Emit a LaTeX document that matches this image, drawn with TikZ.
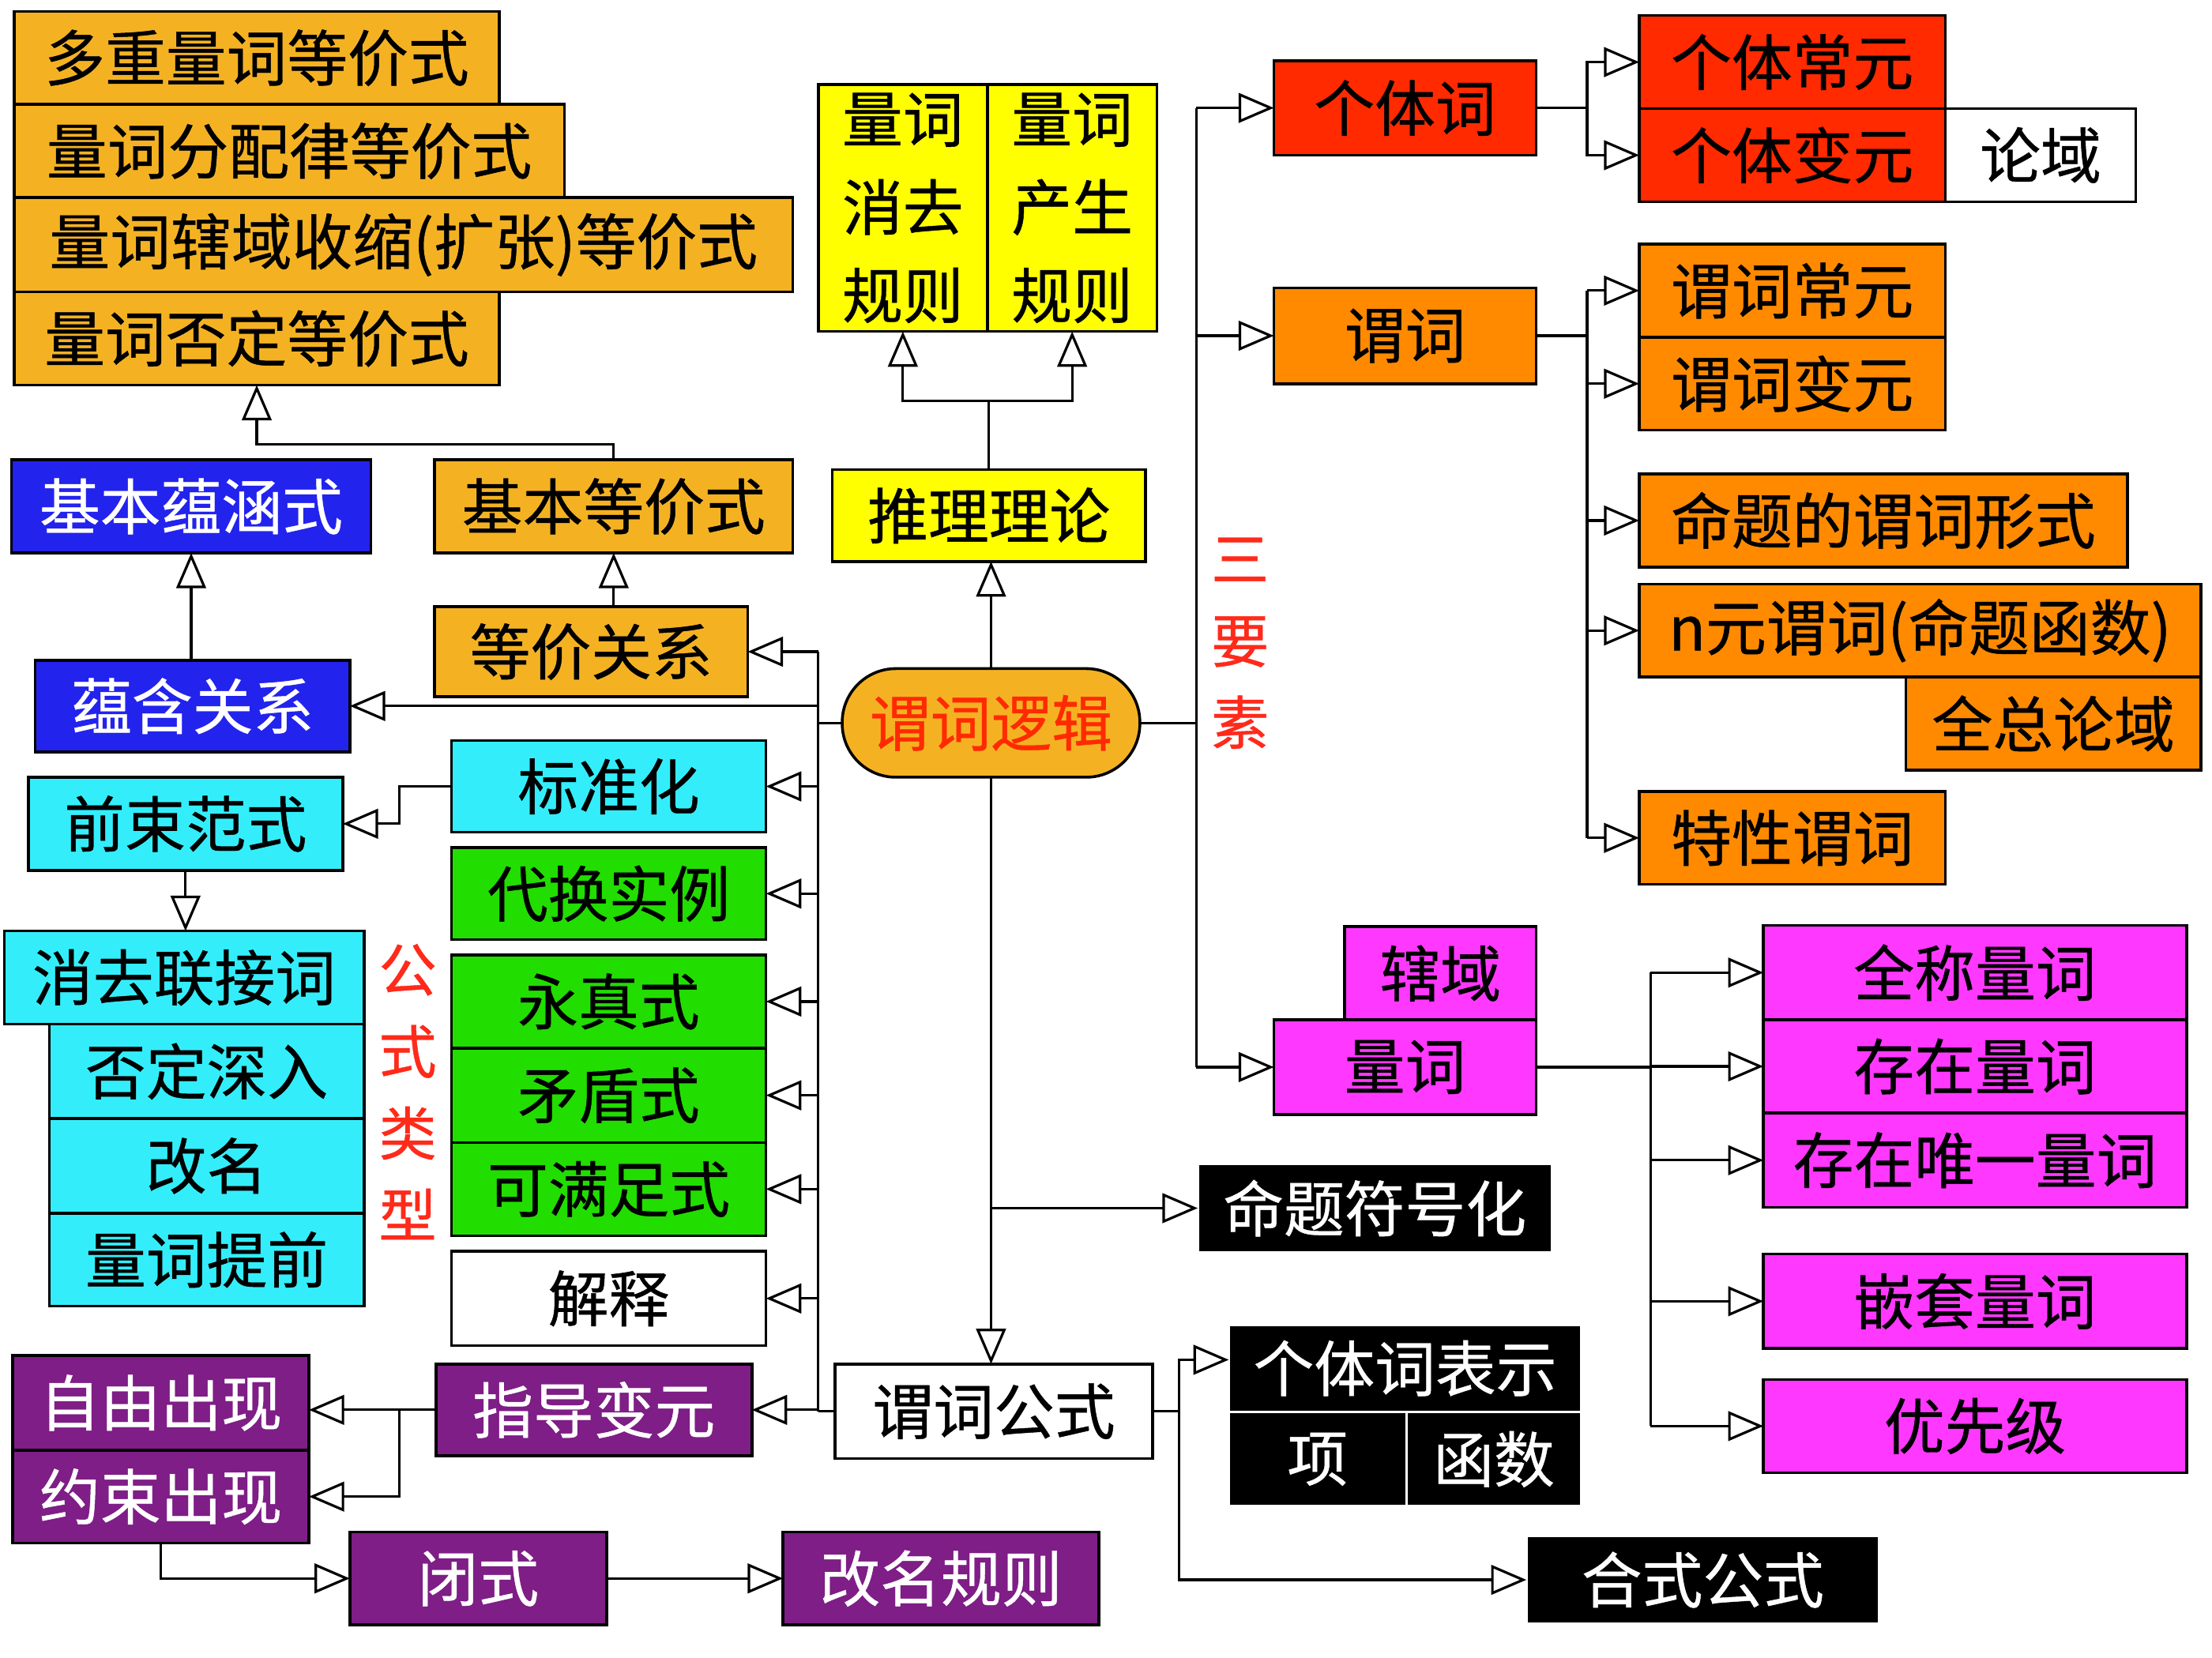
\documentclass[tikz,border=0pt]{standalone}
\usepackage{fontspec}
\setmainfont{Noto Sans CJK SC}[FakeBold=0.6]
\usetikzlibrary{arrows.meta}
\definecolor{cgold}{HTML}{F4B223}
\definecolor{cblue}{HTML}{2323EE}
\definecolor{ccyan}{HTML}{33EEFA}
\definecolor{cgreen}{HTML}{22DD00}
\definecolor{cpurp}{HTML}{7E1E86}
\definecolor{cmag}{HTML}{FF38FF}
\definecolor{cred}{HTML}{FF2A00}
\definecolor{corange}{HTML}{FF8A00}
\definecolor{cyel}{HTML}{FFFF00}
\definecolor{ctxtred}{HTML}{FF2A1A}
\newcommand\mybox[7]{\node[#6, minimum width={(#4-#2)*0.5pt}, minimum height={(#5-#3)*0.5pt}] (#1) at ({(#2+#4)/2},{(#3+#5)/2}) {#7};}
\begin{document}
\begin{tikzpicture}[x=0.5pt,y=-0.5pt,
  bx/.style={draw=black,line width=1pt,inner sep=0pt,outer sep=0pt,font=\fontsize{21.5}{26}\selectfont},
  sgold/.style={bx,fill=cgold},
  sblue/.style={bx,fill=cblue,text=white},
  scyan/.style={bx,fill=ccyan},
  sgreen/.style={bx,fill=cgreen},
  spurp/.style={bx,fill=cpurp,text=white},
  smag/.style={bx,fill=cmag},
  sred/.style={bx,fill=cred},
  sorange/.style={bx,fill=corange},
  syellow/.style={bx,fill=cyel},
  swhite/.style={bx,fill=white},
  sblack/.style={bx,fill=black,draw=white,text=white},
  ln/.style={line width=0.9pt},
  arr/.style={ln,-{Triangle[open,length=12.5pt,width=10.5pt]}},
  vtext/.style={inner sep=0pt,align=center,text=ctxtred,font=\fontsize{20.5}{29}\selectfont}]
\useasboundingbox[fill=white] (0,0) rectangle (1568,1175);

% top-left equivalence stack
\mybox{t1}{10}{8}{354}{74}{sgold}{多重量词等价式}
\mybox{t2}{10}{74}{400}{140}{sgold}{量词分配律等价式}
\mybox{t3}{10}{140}{562}{207}{sgold}{量词辖域收缩(扩张)等价式}
\mybox{t4}{10}{207}{354}{273}{sgold}{量词否定等价式}

\mybox{jbyh}{8}{326}{263}{392}{sblue}{基本蕴涵式}
\mybox{yhgx}{25}{468}{248}{533}{sblue}{蕴含关系}
\mybox{jbdj}{308}{326}{562}{392}{sgold}{基本等价式}
\mybox{djgx}{308}{430}{530}{494}{sgold}{等价关系}

% rules
\mybox{gl}{580}{60}{700}{235}{syellow,align=center,font=\fontsize{21.5}{31.25}\selectfont}{量词\\消去\\规则}
\mybox{gr}{700}{60}{820}{235}{syellow,align=center,font=\fontsize{21.5}{31.25}\selectfont}{量词\\产生\\规则}
\mybox{tllun}{590}{333}{812}{398}{syellow}{推理理论}
\mybox{wclj}{597}{474}{808}{551}{sgold,rounded corners=19pt,text=cred}{谓词逻辑}

% left column
\mybox{bzh}{320}{525}{543}{590}{scyan}{标准化}
\mybox{dhsl}{320}{601}{543}{666}{sgreen}{代换实例}
\mybox{yzs}{320}{677}{543}{743}{sgreen}{永真式}
\mybox{mds}{320}{743}{543}{810}{sgreen}{矛盾式}
\mybox{kmzs}{320}{810}{543}{876}{sgreen}{可满足式}
\mybox{js}{320}{887}{543}{954}{swhite}{解释}
\mybox{zdby}{309}{967}{533}{1032}{spurp}{指导变元}

\mybox{qsfs}{20}{551}{243}{617}{scyan}{前束范式}
\mybox{xqlj}{3}{660}{258}{726}{scyan}{消去联接词}
\mybox{fdsr}{35}{726}{258}{793}{scyan}{否定深入}
\mybox{gm}{35}{793}{258}{860}{scyan}{改名}
\mybox{lctq}{35}{860}{258}{926}{scyan}{量词提前}

\mybox{zyc}{9}{961}{219}{1028}{spurp}{自由出现}
\mybox{ysc}{9}{1028}{219}{1094}{spurp}{约束出现}
\mybox{bs}{248}{1086}{430}{1152}{spurp}{闭式}
\mybox{gmgz}{555}{1086}{779}{1152}{spurp}{改名规则}

\node[vtext] (gslx) at (289,774) {公\\式\\类\\型};
\node[vtext] (sys) at (879,456) {三\\要\\素};

% centre bottom
\mybox{wcgs}{592}{967}{817}{1034}{swhite}{谓词公式}
\mybox{mtfh}{849}{825}{1100}{888}{sblack}{命题符号化}
\mybox{gtbs}{871}{939}{1121}{1001}{sblack}{个体词表示}
\mybox{xiang}{871}{1001}{997}{1068}{sblack}{项}
\mybox{hs}{997}{1001}{1121}{1068}{sblack}{函数}
\mybox{hsgs}{1082}{1089}{1332}{1151}{sblack}{合式公式}

% right side
\mybox{gtc}{903}{43}{1089}{110}{sred}{个体词}
\mybox{wc}{903}{204}{1089}{272}{sorange}{谓词}
\mybox{xy}{953}{657}{1089}{723}{smag}{辖域}
\mybox{lc}{903}{723}{1089}{790}{smag}{量词}

\mybox{gtcy}{1162}{11}{1379}{77}{sred}{个体常元}
\mybox{gtby}{1162}{77}{1379}{143}{sred}{个体变元}
\mybox{ly}{1379}{77}{1514}{143}{swhite}{论域}
\mybox{wccy}{1162}{173}{1379}{239}{sorange}{谓词常元}
\mybox{wcby}{1162}{239}{1379}{305}{sorange}{谓词变元}
\mybox{mtwc}{1162}{336}{1508}{402}{sorange}{命题的谓词形式}
\mybox{nywc}{1162}{414}{1560}{480}{sorange}{n元谓词(命题函数)}
\mybox{zzly}{1351}{480}{1560}{546}{sorange}{全总论域}
\mybox{txwc}{1162}{561}{1379}{627}{sorange}{特性谓词}

\mybox{qclc}{1250}{656}{1550}{723}{smag}{全称量词}
\mybox{czlc}{1250}{723}{1550}{789}{smag}{存在量词}
\mybox{czwy}{1250}{789}{1550}{856}{smag}{存在唯一量词}
\mybox{qtlc}{1250}{889}{1550}{956}{smag}{嵌套量词}
\mybox{yxj}{1250}{978}{1550}{1044}{smag}{优先级}

% ---- connectors ----
\draw[arr] (jbdj.north) -- ++(0,-11) -| (t4.south);
\draw[arr] (djgx.north -| jbdj.south) -- (jbdj.south);
\draw[arr] (yhgx.north -| jbyh.south) -- (jbyh.south);

\draw[ln] (tllun.north) -- ++(0,-49) coordinate (rsplit);
\draw[arr] (rsplit) -| (gl.south);
\draw[arr] (rsplit) -| (gr.south);
\draw[arr] (wclj.north) -- (wclj.north |- tllun.south);

% left bus
\coordinate (lbus) at (580,0);
\draw[ln] (wclj.west) -- (lbus |- wclj.west);
\draw[ln] (lbus |- djgx.east) -- (lbus |- wcgs.west);
\draw[ln] (wcgs.west) -- (lbus |- wcgs.west);
\foreach \n in {djgx,yhgx,bzh,dhsl,yzs,mds,kmzs,js,zdby}
  \draw[arr] (lbus |- \n.east) -- (\n.east);

\draw[arr] (bzh.west) -- ++(-37,0) |- (qsfs.east);
\draw[arr] (qsfs.south) -- (qsfs.south |- xqlj.north);

\draw[arr] (zdby.west) -- (zdby.west -| zyc.east);
\draw[arr] (zdby.west) -- ++(-26,0) |- (ysc.east);
\draw[arr] (ysc.south) |- (bs.west);
\draw[arr] (bs.east) -- (gmgz.west);

% centre down
\draw[arr] (wclj.south) -- (wclj.south |- wcgs.north);
\draw[arr] (wclj.south |- mtfh.west) -- (mtfh.west);
\draw[ln] (wcgs.east) -- ++(19,0) coordinate (rb2);
\draw[arr] (rb2) |- ([yshift=3]gtbs.west);
\draw[arr] (rb2) |- (hsgs.west);

% right bus
\coordinate (rbus) at (848,0);
\draw[ln] (wclj.east) -- (rbus |- wclj.east);
\draw[ln] (rbus |- gtc.west) -- (rbus |- lc.west);
\foreach \n in {gtc,wc,lc}
  \draw[arr] (rbus |- \n.west) -- (\n.west);

\draw[ln] (gtc.east) -- ++(36,0) coordinate (b1);
\draw[arr] (b1) |- (gtcy.west);
\draw[arr] (b1) |- (gtby.west);

\draw[ln] (wc.east) -- ++(36,0) coordinate (b2);
\draw[ln] (b2 |- wccy.west) -- (b2 |- txwc.west);
\foreach \n in {wccy,wcby,mtwc,nywc,txwc}
  \draw[arr] (b2 |- \n.west) -- (\n.west);

\draw[ln] (lc.east) -- ++(81,0) coordinate (b3);
\draw[ln] (b3 |- qclc.west) -- (b3 |- yxj.west);
\foreach \n in {qclc,czlc,czwy,qtlc,yxj}
  \draw[arr] (b3 |- \n.west) -- (\n.west);
\end{tikzpicture}
\end{document}
